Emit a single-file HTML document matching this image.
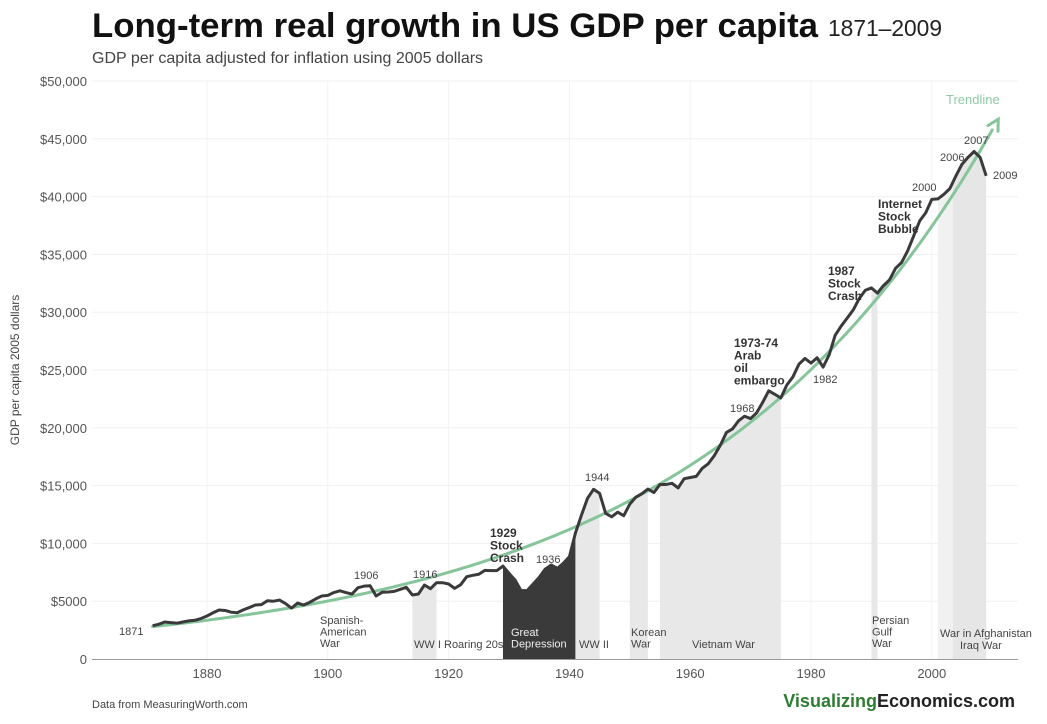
<!DOCTYPE html>
<html><head><meta charset="utf-8"><style>
body{margin:0;background:#fff;font-family:"Liberation Sans",sans-serif}
svg text{font-family:"Liberation Sans",sans-serif}
</style></head><body>
<svg id="chart" width="1047" height="719" viewBox="0 0 1047 719" xmlns="http://www.w3.org/2000/svg">
<text x="92" y="37" font-size="34" font-weight="bold" fill="#111" textLength="726" lengthAdjust="spacingAndGlyphs">Long-term real growth in US GDP per capita</text>
<text x="828" y="36" font-size="23" fill="#222" textLength="114" lengthAdjust="spacingAndGlyphs">1871–2009</text>
<text x="92" y="63" font-size="16" fill="#444">GDP per capita adjusted for inflation using 2005 dollars</text>
<text transform="translate(19,370) rotate(-90)" text-anchor="middle" font-size="12" fill="#444">GDP per capita 2005 dollars</text>
<g id="grid"></g><g id="bands"></g><g id="marks"></g><g id="labels"></g>
<text x="92" y="708" font-size="11" fill="#444">Data from MeasuringWorth.com</text>
<text x="1015" y="707" text-anchor="end" font-size="18" font-weight="bold"><tspan fill="#2e7d32">Visualizing</tspan><tspan fill="#222">Economics.com</tspan></text>
</svg>
<script>
const years = [1871,1872,1873,1874,1875,1876,1877,1878,1879,1880,1881,1882,1883,1884,1885,1886,1887,1888,1889,1890,1891,1892,1893,1894,1895,1896,1897,1898,1899,1900,1901,1902,1903,1904,1905,1906,1907,1908,1909,1910,1911,1912,1913,1914,1915,1916,1917,1918,1919,1920,1921,1922,1923,1924,1925,1926,1927,1928,1929,1930,1931,1932,1933,1934,1935,1936,1937,1938,1939,1940,1941,1942,1943,1944,1945,1946,1947,1948,1949,1950,1951,1952,1953,1954,1955,1956,1957,1958,1959,1960,1961,1962,1963,1964,1965,1966,1967,1968,1969,1970,1971,1972,1973,1974,1975,1976,1977,1978,1979,1980,1981,1982,1983,1984,1985,1986,1987,1988,1989,1990,1991,1992,1993,1994,1995,1996,1997,1998,1999,2000,2001,2002,2003,2004,2005,2006,2007,2008,2009];
const gdp = [2880,3000,3200,3150,3100,3200,3300,3350,3500,3720,4000,4240,4200,4050,4000,4250,4450,4670,4700,5040,5000,5100,4800,4400,4840,4670,4900,5200,5450,5500,5750,5900,5750,5620,6170,6300,6340,5450,5770,5800,5850,6030,6200,5540,5620,6400,6080,6600,6600,6490,6110,6430,7120,7240,7330,7670,7650,7650,8040,7410,6830,5910,5910,6490,7060,7780,8130,7840,8280,8850,10900,12450,13900,14680,14330,12600,12300,12700,12400,13400,14000,14300,14700,14400,15100,15100,15200,14800,15600,15700,15800,16500,16900,17600,18500,19600,19900,20600,21000,20800,21300,22200,23200,22900,22580,23700,24400,25500,26000,25600,26060,25250,26300,28000,28800,29500,30200,31200,31900,32100,31650,32300,32800,33800,34300,35300,36600,37900,38600,39760,39800,40200,40700,41800,42800,43400,43900,43400,41800];
const yTicks = [0,5000,10000,15000,20000,25000,30000,35000,40000,45000,50000];
const yTickLabels = ["0","$5000","$10,000","$15,000","$20,000","$25,000","$30,000","$35,000","$40,000","$45,000","$50,000"];
const xTicks = [1880,1900,1920,1940,1960,1980,2000];
const bandNames = ["ww1","great-depression","ww2","korean-war","vietnam-war","persian-gulf-war","afghanistan-war","iraq-war"];
const bandStart = [1914,1929,1941,1950,1955,1990,2001,2003.5];
const bandEnd = [1918,1941,1945,1953,1975,1991,2009,2009];
const bandFill = ["#e8e8e8","#3a3a3a","#e8e8e8","#e8e8e8","#e8e8e8","#e8e8e8","#f1f1f1","#e6e6e6"];
const trendStart = 2800, trendRate = 0.0201, trendFrom = 1871, trendTo = 2011;

const X = y => 207 + (y-1880)*6.04;
const Y = v => 659 - v/50000*578;
const NS = "http://www.w3.org/2000/svg";
function mk(parent, tag, attrs){const e=document.createElementNS(NS,tag);for(const k in attrs)e.setAttribute(k,attrs[k]);document.getElementById(parent).appendChild(e);return e;}
function val(yr){const i=years.indexOf(Math.floor(yr));const f=yr-Math.floor(yr);if(f===0||i===years.length-1)return gdp[i];return gdp[i]+(gdp[i+1]-gdp[i])*f;}

// grid
yTicks.forEach((t,i)=>{
  if(t>0){const g=mk('grid','line',{x1:92,x2:1018,y1:Y(t),y2:Y(t),stroke:'#f0f0f0','stroke-width':1});
  
  }
  const l=mk('grid','text',{x:87,y:Y(t)+5,'text-anchor':'end','font-size':13,fill:'#555'});
  l.textContent=yTickLabels[i];
  
  
});
xTicks.forEach(t=>{
  const g=mk('grid','line',{x1:X(t),x2:X(t),y1:81,y2:659,stroke:'#f3f3f3','stroke-width':1});
  
  
  const l=mk('grid','text',{x:X(t),y:678,'text-anchor':'middle','font-size':13,fill:'#555'});
  l.textContent=t;
  
  
});
const ax=mk('grid','line',{x1:92,x2:1018,y1:659.5,y2:659.5,stroke:'#999','stroke-width':1});



// bands: area under GDP line
bandStart.forEach((s,i)=>{
  const e=bandEnd[i];let d=`M${X(s)},659`;
  for(let yr=s;yr<=e+1e-9;yr=(Math.floor(yr)+1>e&&yr<e)?e:Math.floor(yr)+1){d+=` L${X(yr)},${Y(val(yr))}`;if(yr>=e)break;}
  d+=` L${X(e)},659Z`;
  const p=mk('bands','path',{d:d,fill:bandFill[i]});
  
  
});

// trendline
let td='';for(let yr=trendFrom;yr<=trendTo-1;yr+=0.5){td+=(td?' L':'M')+X(yr)+','+Y(trendStart*Math.exp(trendRate*(yr-trendFrom)));}
const tl=mk('marks','path',{d:td,fill:'none',stroke:'#86c49a','stroke-width':3,'stroke-linecap':'round'});


const ex=X(trendTo),ey=Y(trendStart*Math.exp(trendRate*(trendTo-trendFrom)));
const px=X(trendTo-2),py=Y(trendStart*Math.exp(trendRate*(trendTo-2-trendFrom)));
const ang=Math.atan2(ey-py,ex-px);
const ah=mk('marks','polyline',{points:`${ex-12*Math.cos(ang-0.5)},${ey-12*Math.sin(ang-0.5)} ${ex},${ey} ${ex-12*Math.cos(ang+0.5)},${ey-12*Math.sin(ang+0.5)}`,fill:'none',stroke:'#86c49a','stroke-width':3,'stroke-linecap':'round'});



// gdp line
const gl=mk('marks','path',{d:years.map((y,i)=>(i?'L':'M')+X(y)+','+Y(gdp[i])).join(' '),fill:'none',stroke:'#3a3a3a','stroke-width':3,'stroke-linejoin':'round'});



// annotations
const ann=[
 ['year-1871',119,635,'1871',11,'#444',0,0],['year-1906',354,579,'1906',11,'#444',0,0],['year-1916',413,578,'1916',11,'#444',0,0],
 ['year-1936',536,563,'1936',11,'#444',0,0],['year-1944',585,481,'1944',11,'#444',0,0],['year-1968',730,412,'1968',11,'#444',0,0],
 ['year-1982',813,383,'1982',11,'#444',0,0],['year-2000',912,191,'2000',11,'#444',0,0],['year-2006',940,161,'2006',11,'#444',0,0],
 ['year-2007',964,144,'2007',11,'#444',0,0],['year-2009',993,179,'2009',11,'#444',0,0],
 ['trendline-label',946,104,'Trendline',13,'#8fcaa5',0,0],
 ['label-1929-crash',490,537,'1929|Stock|Crash',12,'#333',1,0],
 ['label-oil-embargo',734,347,'1973-74|Arab|oil|embargo',12,'#333',1,0],
 ['label-1987-crash',828,275,'1987|Stock|Crash',12,'#333',1,0],
 ['label-internet-bubble',878,208,'Internet|Stock|Bubble',12,'#333',1,0],
 ['label-spanish-american-war',320,624,'Spanish-|American|War',11,'#444',0,0],
 ['label-ww1',414,648,'WW I',11,'#444',0,0],['label-roaring-20s',444,648,'Roaring 20s',11,'#444',0,0],
 ['label-great-depression',511,636,'Great|Depression',11,'#eee',0,0],['label-ww2',579,648,'WW II',11,'#444',0,0],
 ['label-korean-war',631,636,'Korean|War',11,'#444',0,0],['label-vietnam-war',692,648,'Vietnam War',11,'#444',0,0],
 ['label-persian-gulf-war',872,624,'Persian|Gulf|War',11,'#444',0,0],
 ['label-afghanistan-war',940,637,'War in Afghanistan',11,'#444',0,0],['label-iraq-war',960,649,'Iraq War',11,'#444',0,0]
];
ann.forEach(a=>{
  const t=mk('labels','text',{x:a[1],y:a[2],'font-size':a[4],fill:a[5],'font-weight':a[6]?'bold':'normal'});
  a[3].split('|').forEach((s,i)=>{const ts=document.createElementNS(NS,'tspan');ts.setAttribute('x',a[1]);ts.setAttribute('dy',i?a[4]+0.5:0);ts.textContent=s;t.appendChild(ts);});
  
  
});
</script>
</body></html>
